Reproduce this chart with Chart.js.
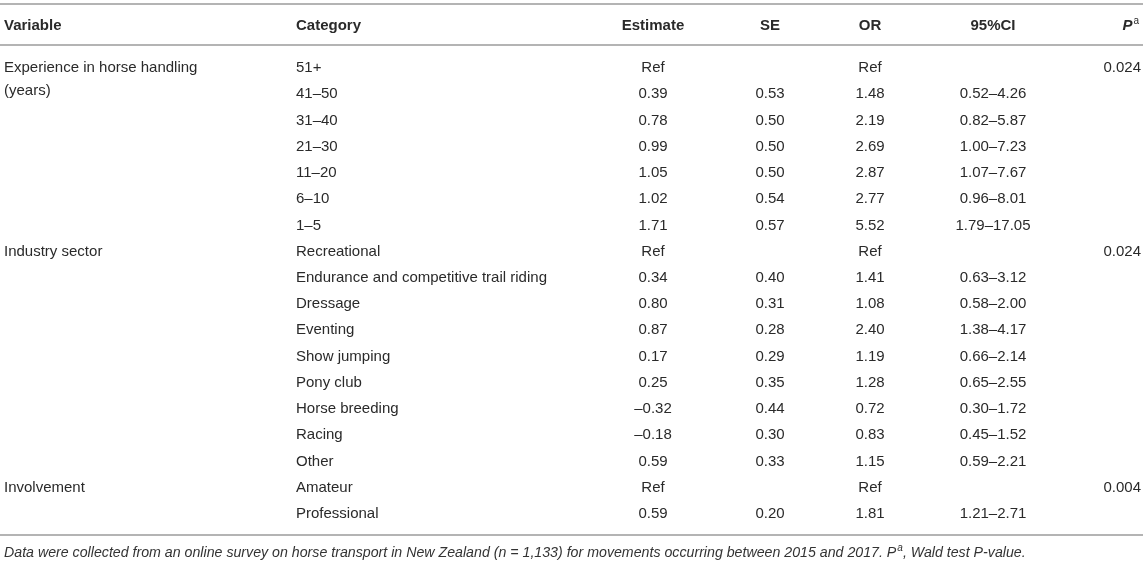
<!DOCTYPE html>
<html>
<head>
<meta charset="utf-8">
<title>Horse handling table</title>
<script src="https://cdn.jsdelivr.net/npm/chart.js@4/dist/chart.umd.min.js"></script>
<style>
body{margin:0;background:#fff}
#wrap{width:1145px;height:565px;position:relative}
</style>
</head>
<body>
<div id="wrap"><canvas id="tabela"></canvas></div>
<script>
// table data
const headers = ['Variable', 'Category', 'Estimate', 'SE', 'OR', '95%CI', 'P'];
const variables = [['Experience in horse handling', '(years)'], '', '', '', '', '', '',
    'Industry sector', '', '', '', '', '', '', '', '',
    'Involvement', ''];
const categories = ['51+', '41–50', '31–40', '21–30', '11–20', '6–10', '1–5',
    'Recreational', 'Endurance and competitive trail riding', 'Dressage', 'Eventing',
    'Show jumping', 'Pony club', 'Horse breeding', 'Racing', 'Other',
    'Amateur', 'Professional'];
const estimates = ['Ref', '0.39', '0.78', '0.99', '1.05', '1.02', '1.71',
    'Ref', '0.34', '0.80', '0.87', '0.17', '0.25', '–0.32', '–0.18', '0.59',
    'Ref', '0.59'];
const se = ['', '0.53', '0.50', '0.50', '0.50', '0.54', '0.57',
    '', '0.40', '0.31', '0.28', '0.29', '0.35', '0.44', '0.30', '0.33',
    '', '0.20'];
const oddsRatio = ['Ref', '1.48', '2.19', '2.69', '2.87', '2.77', '5.52',
    'Ref', '1.41', '1.08', '2.40', '1.19', '1.28', '0.72', '0.83', '1.15',
    'Ref', '1.81'];
const ci95 = ['', '0.52–4.26', '0.82–5.87', '1.00–7.23', '1.07–7.67', '0.96–8.01', '1.79–17.05',
    '', '0.63–3.12', '0.58–2.00', '1.38–4.17', '0.66–2.14', '0.65–2.55', '0.30–1.72', '0.45–1.52', '0.59–2.21',
    '', '1.21–2.71'];
const pValues = ['0.024', '', '', '', '', '', '',
    '0.024', '', '', '', '', '', '', '', '',
    '0.004', ''];
const footnote = 'Data were collected from an online survey on horse transport in New Zealand (n = 1,133) for movements occurring between 2015 and 2017. P';
const footnoteEnd = ', Wald test P-value.';

// layout
const colX = [4, 296, 653, 770, 870, 993, 1141];
const colAlign = ['left', 'left', 'center', 'center', 'center', 'center', 'right'];
const fam = '"Liberation Sans", Arial, Helvetica, sans-serif';
const txtColor = '#2a2a2a';
const lineColor = '#b4b4b4';

const columns = [variables, categories, estimates, se, oddsRatio, ci95, pValues];

const datasets = columns.map((col, c) => ({
    label: headers[c],
    data: col.map((v, i) => ({x: colX[c], y: i})),
    texts: col,
    pointRadius: 0,
    showLine: false
}));

const tablePlugin = {
    id: 'tablePlugin',
    afterDatasetsDraw(chart) {
        const ctx = chart.ctx;
        const ys = chart.scales.y;
        const area = chart.chartArea;
        ctx.save();
        ctx.textBaseline = 'middle';
        ctx.fillStyle = txtColor;

        // cells
        ctx.font = '15px ' + fam;
        chart.data.datasets.forEach((ds, c) => {
            const meta = chart.getDatasetMeta(c);
            ctx.textAlign = colAlign[c];
            meta.data.forEach((el, i) => {
                let t = ds.texts[i];
                if (!t) return;
                if (!Array.isArray(t)) t = [t];
                t.forEach((line, k) => ctx.fillText(line, el.x, el.y + k * 23));
            });
        });

        // rules
        ctx.strokeStyle = lineColor;
        ctx.lineWidth = 2;
        [-2.44, -0.877, 17.8].forEach(v => {
            const y = ys.getPixelForValue(v);
            ctx.beginPath();
            ctx.moveTo(area.left, y);
            ctx.lineTo(area.right - 2, y);
            ctx.stroke();
        });

        // header
        const hy = ys.getPixelForValue(-1.6);
        ctx.font = 'bold 15px ' + fam;
        for (let c = 0; c < 6; c++) {
            ctx.textAlign = colAlign[c];
            ctx.fillText(headers[c], colX[c], hy);
        }
        ctx.textAlign = 'left';
        ctx.font = '10px ' + fam;
        const aw = ctx.measureText('a').width;
        ctx.font = 'italic bold 15px ' + fam;
        const pw = ctx.measureText('P').width;
        const px = colX[6] - 3 - aw - pw;
        ctx.fillText('P', px, hy);
        ctx.font = '10px ' + fam;
        ctx.fillText('a', px + pw + 1, hy - 5);

        // footnote
        const fy = ys.getPixelForValue(18.49);
        ctx.font = 'italic 14.2px ' + fam;
        ctx.fillStyle = '#333';
        let fx = 4;
        ctx.fillText(footnote, fx, fy);
        fx += ctx.measureText(footnote).width;
        ctx.font = 'italic 10px ' + fam;
        ctx.fillText('a', fx + 1, fy - 5);
        fx += ctx.measureText('a').width + 1;
        ctx.font = 'italic 14.2px ' + fam;
        ctx.fillText(footnoteEnd, fx, fy);
        ctx.restore();
    }
};

new Chart(document.getElementById('tabela'), {
    type: 'scatter',
    data: {datasets: datasets},
    options: {
        responsive: true,
        maintainAspectRatio: false,
        animation: false,
        layout: {padding: 0},
        plugins: {legend: {display: false}, tooltip: {enabled: false}},
        scales: {
            x: {type: 'linear', min: 0, max: 1145, display: false},
            y: {type: 'linear', min: -2.592, max: 18.944, reverse: true, display: false}
        }
    },
    plugins: [tablePlugin]
});
</script>
</body>
</html>
